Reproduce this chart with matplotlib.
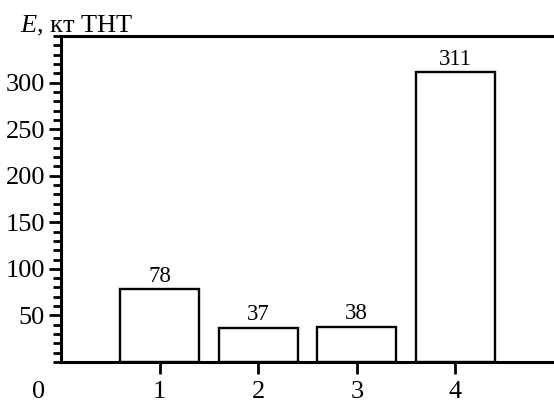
import numpy as np
import matplotlib
matplotlib.use("Agg")
import matplotlib.pyplot as plt
from matplotlib.ticker import MultipleLocator

plt.rcParams['font.family'] = ['Liberation Serif', 'DejaVu Serif']
plt.rcParams['mathtext.fontset'] = 'custom'
plt.rcParams['mathtext.rm'] = 'Liberation Serif'
plt.rcParams['mathtext.it'] = 'Liberation Serif:italic'

# data
cases = [1, 2, 3, 4]
energy = [78, 37, 38, 311]
yticks = [50, 100, 150, 200, 250, 300]

fig = plt.figure(figsize=(5.54, 4.03), dpi=100)
ax = fig.add_axes([61 / 554, 1 - 362 / 403, 1 - 61 / 554, (362 - 36) / 403])

bars = ax.bar(cases, energy, width=0.8, facecolor='white', edgecolor='black',
              linewidth=1.7)
ax.bar_label(bars, labels=[str(v) for v in energy], padding=2, fontsize=16.5)

ax.set_xlim(0, 5)
ax.set_ylim(0, 350)
ax.set_xticks(cases)
ax.set_yticks(yticks)
ax.yaxis.set_minor_locator(MultipleLocator(10))

ax.spines['right'].set_visible(False)
for s in ['left', 'top', 'bottom']:
    ax.spines[s].set_linewidth(2.2)

ax.tick_params(axis='y', which='major', length=8.5, width=2.0, pad=3, labelsize=19)
ax.tick_params(axis='y', which='minor', length=5.5, width=2.0)
ax.tick_params(axis='x', which='major', length=8.5, width=2.0, pad=5, labelsize=19)

ax.annotate('0', xy=(0, 0), xycoords='data', xytext=(-16.5, -21.5),
            textcoords='offset points', ha='center', va='center', fontsize=19)

fig.text(20 / 554, 1 - 32 / 403, r'$E$, кт ТНТ', fontsize=19, ha='left', va='baseline')

fig.savefig('out.png', dpi=100)
